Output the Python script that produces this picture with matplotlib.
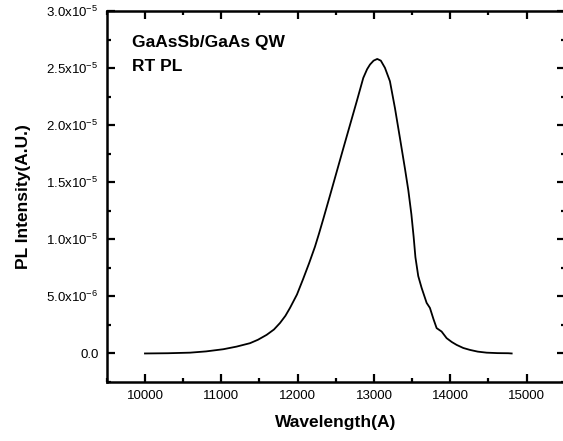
"""RT PL spectrum of GaAsSb/GaAs QW"""
import matplotlib
matplotlib.use('Agg')
import matplotlib.pyplot as plt
from matplotlib.ticker import MultipleLocator, FuncFormatter

plt.rcParams['font.family'] = ['Liberation Sans', 'DejaVu Sans']
plt.rcParams['mathtext.fontset'] = 'custom'
plt.rcParams['mathtext.rm'] = 'Liberation Sans'
plt.rcParams['mathtext.default'] = 'regular'
plt.rcParams['axes.unicode_minus'] = False

# wavelength (A) and PL intensity (x1e-5 A.U.)
wavelength = [10000, 10300, 10590, 10800, 11026, 11200, 11376, 11480, 11594, 11690,
              11769, 11840, 11900, 11991, 12070, 12150, 12227, 12280,
              12336, 12424, 12511, 12598, 12686, 12774, 12860, 12910, 12948, 12995,
              13043, 13090, 13144, 13209, 13275, 13341, 13406, 13450, 13490, 13520, 13543,
              13580, 13624, 13690, 13733, 13780, 13821, 13886, 13952, 14020, 14083,
              14170, 14258, 14360, 14476, 14620, 14759, 14804]
intensity = [0.0, 0.002, 0.007, 0.018, 0.037, 0.060, 0.090, 0.120, 0.163, 0.210,
             0.267, 0.330, 0.399, 0.516, 0.649, 0.790, 0.935, 1.050,
             1.178, 1.384, 1.590, 1.796, 2.002, 2.208, 2.414, 2.490, 2.531, 2.565,
             2.580, 2.565, 2.502, 2.385, 2.149, 1.884, 1.619, 1.430, 1.220, 1.020, 0.843,
             0.678, 0.575, 0.443, 0.399, 0.300, 0.222, 0.192, 0.134, 0.100, 0.075,
             0.048, 0.031, 0.016, 0.007, 0.003, 0.002, 0.0]


def sci_fmt(v, pos):
    if abs(v) < 1e-12:
        return '0.0'
    e = 0
    m = v
    while abs(m) < 1:
        m *= 10
        e -= 1
    return f'{m:.1f}x10$^{{{e}}}$'


fig = plt.figure(figsize=(5.63, 4.41), dpi=100)
ax = fig.add_axes([106.8 / 563, 59 / 441, 458 / 563, 371 / 441])

ax.plot(wavelength, [i * 1e-5 for i in intensity], color='black', linewidth=1.3)

ax.set_xlim(9500, 15500)
ax.set_ylim(-2.5e-6, 3.0e-5)
ax.xaxis.set_major_locator(MultipleLocator(1000))
ax.xaxis.set_minor_locator(MultipleLocator(500))
ax.yaxis.set_major_locator(MultipleLocator(5e-6))
ax.yaxis.set_minor_locator(MultipleLocator(2.5e-6))
ax.yaxis.set_major_formatter(FuncFormatter(sci_fmt))

ax.tick_params(which='both', direction='in', top=True, right=True, width=1.6,
               labelsize=9.5, pad=6)
ax.tick_params(which='major', length=6)
ax.tick_params(which='minor', length=3)
for s in ax.spines.values():
    s.set_linewidth(1.8)

ax.set_xlabel('Wavelength(A)', fontsize=12.5, fontweight='bold', labelpad=9)
ax.set_ylabel('PL Intensity(A.U.)', fontsize=12.5, fontweight='bold', labelpad=11)

ax.text(0.055, 0.935, 'GaAsSb/GaAs QW\nRT PL', transform=ax.transAxes,
        fontsize=12.5, fontweight='bold', va='top', ha='left', linespacing=1.7)

fig.savefig('out.png', dpi=100)
plt.close(fig)
